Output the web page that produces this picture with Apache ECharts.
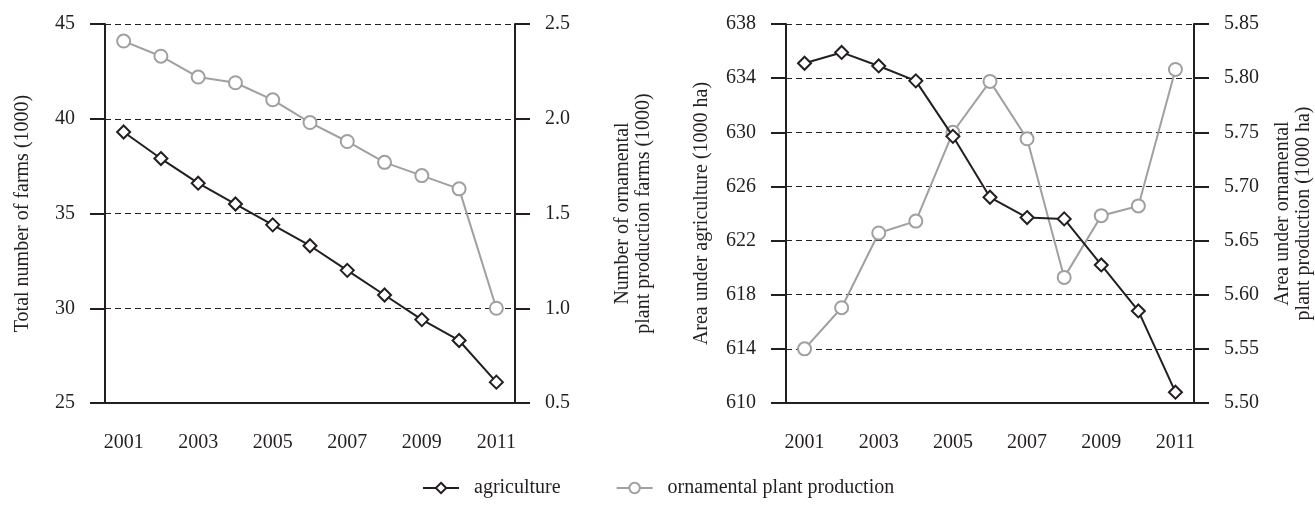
<!DOCTYPE html>
<html>
<head>
<meta charset="utf-8">
<script src="https://cdn.jsdelivr.net/npm/echarts@6/dist/echarts.min.js"></script>
<style>
  html, body { margin: 0; padding: 0; background: #fff; }
  #chart { width: 1315px; height: 508px; }
</style>
</head>
<body>
<div id="chart"></div>
<script>
// data
const years = ["2001", "2002", "2003", "2004", "2005", "2006", "2007", "2008", "2009", "2010", "2011"]
const farmsAgri = [39.3, 37.9, 36.6, 35.5, 34.4, 33.3, 32.0, 30.7, 29.4, 28.3, 26.1]
const farmsOrn = [2.41, 2.33, 2.22, 2.19, 2.10, 1.98, 1.88, 1.77, 1.70, 1.63, 1.00]
const areaAgri = [635.1, 635.9, 634.9, 633.8, 629.7, 625.2, 623.7, 623.6, 620.2, 616.8, 610.8]
const areaOrn = [5.550, 5.588, 5.657, 5.668, 5.750, 5.797, 5.744, 5.616, 5.673, 5.682, 5.808]

const black = "#231f20"
const grey = "#a0a0a0"
const font = "Liberation Serif"

function xAxis(gridIndex) {
  return {
    type: "category",
    gridIndex: gridIndex,
    data: years,
    boundaryGap: true,
    axisLine: { lineStyle: { color: black, width: 2 } },
    axisTick: { interval: 0, length: 14, lineStyle: { color: black, width: 2 } },
    axisLabel: { interval: 1, margin: 30, color: black, fontFamily: font, fontSize: 20 }
  }
}

function yAxis(gridIndex, pos, min, max, step, name, gap, digits, grid) {
  return {
    type: "value",
    gridIndex: gridIndex,
    position: pos,
    min: min,
    max: max,
    interval: step,
    name: name,
    nameLocation: "middle",
    nameRotate: 90,
    nameGap: gap,
    nameTextStyle: { color: black, fontFamily: font, fontSize: 20, lineHeight: 21 },
    axisLine: { show: true, lineStyle: { color: black, width: 2 } },
    axisTick: { show: true, length: 15, lineStyle: { color: black, width: 2 } },
    axisLabel: {
      margin: 30,
      color: black,
      fontFamily: font,
      fontSize: 20,
      formatter: (v) => v.toFixed(digits)
    },
    splitLine: {
      show: grid,
      lineStyle: { color: black, width: 1, type: [6, 4] }
    }
  }
}

function series(name, data, xi, yi, color, symbol) {
  return {
    name: name,
    type: "line",
    xAxisIndex: xi,
    yAxisIndex: yi,
    data: data,
    symbol: symbol,
    symbolSize: 13,
    showAllSymbol: true,
    lineStyle: { color: color, width: 2 },
    itemStyle: { color: "#fff", borderColor: color, borderWidth: 2 },
    z: symbol === "diamond" ? 3 : 2,
    animation: false
  }
}

const option = {
  backgroundColor: "#fff",
  animation: false,
  textStyle: { fontFamily: font },
  grid: [
    { left: 105, right: 800, top: 24, bottom: 105 },
    { left: 786, right: 120, top: 24, bottom: 105 }
  ],
  legend: {
    left: 422,
    top: 478,
    padding: 0,
    itemWidth: 36,
    itemHeight: 13,
    itemGap: 55,
    textStyle: { color: black, fontFamily: font, fontSize: 20, padding: [0, 0, 0, 10] },
    data: ["agriculture", "ornamental plant production"]
  },
  xAxis: [xAxis(0), xAxis(1)],
  yAxis: [
    yAxis(0, "left", 25, 45, 5, "Total number of farms (1000)", 72, 0, true),
    yAxis(0, "right", 0.5, 2.5, 0.5, "Number of ornamental\nplant production farms (1000)", 97, 1, false),
    yAxis(1, "left", 610, 638, 4, "Area under agriculture (1000 ha)", 74, 0, true),
    yAxis(1, "right", 5.5, 5.85, 0.05, "Area under ornamental\nplant production (1000 ha)", 78, 2, false)
  ],
  series: [
    series("ornamental plant production", farmsOrn, 0, 1, grey, "circle"),
    series("agriculture", farmsAgri, 0, 0, black, "diamond"),
    series("ornamental plant production", areaOrn, 1, 3, grey, "circle"),
    series("agriculture", areaAgri, 1, 2, black, "diamond")
  ]
}

const myChart = echarts.init(document.getElementById("chart"), null, { renderer: "canvas" })
myChart.setOption(option)
</script>
</body>
</html>
